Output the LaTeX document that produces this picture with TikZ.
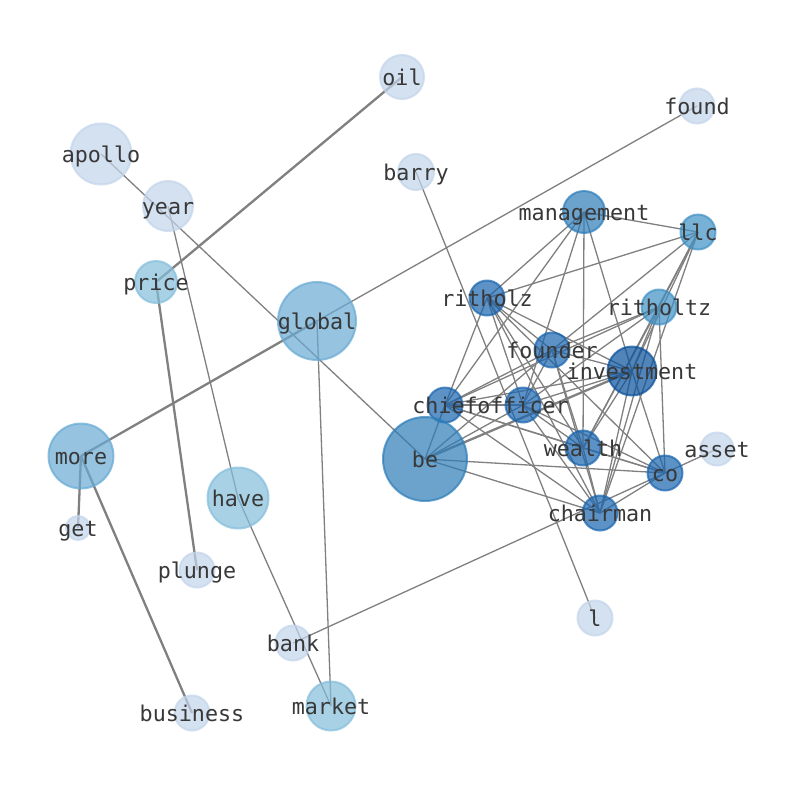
\documentclass[tikz,border=0pt]{standalone}
\usepackage{fontspec}
\newfontfamily\monofnt{DejaVu Sans Mono}
\usetikzlibrary{backgrounds}
\definecolor{cA}{RGB}{195,213,235}
\definecolor{cB}{RGB}{132,190,220}
\definecolor{cC}{RGB}{104,170,212}
\definecolor{cD}{RGB}{64,145,198}
\definecolor{cE}{RGB}{45,125,185}
\definecolor{cF}{RGB}{25,100,175}
\definecolor{cG}{RGB}{8,81,156}
\definecolor{txt}{RGB}{56,56,56}
\definecolor{edg}{RGB}{128,128,128}
\begin{document}
\begin{tikzpicture}[x=1pt,y=-1pt,
  vtx/.style={circle,inner sep=0pt,draw=#1,fill=#1,opacity=0.7,line width=2pt},
  lbl/.style={font=\monofnt\fontsize{21.7}{24}\selectfont,text=txt,inner sep=0pt,text height=16pt,text depth=0pt},
  edge/.style={draw=edg,line width=1.3pt},
  tedge/.style={draw=edg,line width=2.3pt}]
\useasboundingbox (0,0) rectangle (794,790);
% vertices
\node[vtx=cA,minimum size=44pt] (oil) at (402,77) {};
\node[vtx=cA,minimum size=35pt] (found) at (697,106) {};
\node[vtx=cA,minimum size=61pt] (apollo) at (101,154) {};
\node[vtx=cA,minimum size=36pt] (barry) at (416,172) {};
\node[vtx=cA,minimum size=50pt] (year) at (168,206) {};
\node[vtx=cE,minimum size=42pt] (management) at (584,212) {};
\node[vtx=cD,minimum size=35pt] (llc) at (698,232) {};
\node[vtx=cB,minimum size=42pt] (price) at (156,282) {};
\node[vtx=cC,minimum size=78pt] (global) at (317,321) {};
\node[vtx=cF,minimum size=35pt] (ritholz) at (487,298) {};
\node[vtx=cD,minimum size=35pt] (ritholtz) at (659,307) {};
\node[vtx=cF,minimum size=35pt] (founder) at (552,350) {};
\node[vtx=cG,minimum size=49pt] (investment) at (632,371) {};
\node[vtx=cF,minimum size=35pt] (chief) at (445,405) {};
\node[vtx=cF,minimum size=35pt] (officer) at (523,405) {};
\node[vtx=cF,minimum size=35pt] (wealth) at (583,448) {};
\node[vtx=cF,minimum size=35pt] (co) at (665,473) {};
\node[vtx=cA,minimum size=33pt] (asset) at (717,449) {};
\node[vtx=cE,minimum size=84pt] (be) at (425,459) {};
\node[vtx=cF,minimum size=35pt] (chairman) at (600,513) {};
\node[vtx=cA,minimum size=35pt] (l) at (595,618) {};
\node[vtx=cC,minimum size=65pt] (more) at (81,456) {};
\node[vtx=cA,minimum size=24pt] (get) at (78,528) {};
\node[vtx=cB,minimum size=61pt] (have) at (238,498) {};
\node[vtx=cA,minimum size=35pt] (plunge) at (197,570) {};
\node[vtx=cA,minimum size=35pt] (bank) at (293,643) {};
\node[vtx=cA,minimum size=35pt] (business) at (192,713) {};
\node[vtx=cB,minimum size=49pt] (market) at (331,706) {};
% edges
\begin{pgfonlayer}{background}
\fill[white] (0,0) rectangle (794,790);
\draw[tedge] (oil.center) -- (price.center);
\draw[tedge] (price.center) -- (plunge.center);
\draw[tedge] (more.center) -- (global.center);
\draw[tedge] (more.center) -- (get.center);
\draw[tedge] (more.center) -- (business.center);
\draw[edge] (global.center) -- (found.center);
\draw[edge] (global.center) -- (market.center);
\draw[edge] (apollo.center) -- (be.center);
\draw[edge] (year.center) -- (have.center);
\draw[edge] (have.center) -- (market.center);
\draw[edge] (barry.center) -- (l.center);
\draw[edge] (bank.center) -- (co.center);
\draw[edge] (asset.center) -- (co.center);
% cluster
\draw[edge] (management.center) -- (llc.center);
\draw[edge] (management.center) -- (ritholz.center);
\draw[edge] (management.center) -- (chief.center);
\draw[edge] (management.center) -- (officer.center);
\draw[edge] (management.center) -- (wealth.center);
\draw[edge] (management.center) -- (investment.center);
\draw[edge] (llc.center) -- (ritholz.center);
\draw[edge] (llc.center) -- (founder.center);
\draw[edge] (llc.center) -- (ritholtz.center);
\draw[edge] (llc.center) -- (investment.center);
\draw[edge] (llc.center) -- (wealth.center);
\draw[edge] (llc.center) -- (chairman.center);
\draw[edge] (ritholz.center) -- (chief.center);
\draw[edge] (ritholz.center) -- (founder.center);
\draw[edge] (ritholz.center) -- (officer.center);
\draw[edge] (ritholz.center) -- (investment.center);
\draw[edge] (ritholz.center) -- (wealth.center);
\draw[edge] (ritholz.center) -- (co.center);
\draw[edge] (ritholz.center) -- (chairman.center);
\draw[edge] (ritholtz.center) -- (founder.center);
\draw[edge] (ritholtz.center) -- (chief.center);
\draw[edge] (ritholtz.center) -- (officer.center);
\draw[edge] (ritholtz.center) -- (investment.center);
\draw[edge] (ritholtz.center) -- (wealth.center);
\draw[edge] (ritholtz.center) -- (chairman.center);
\draw[edge] (ritholtz.center) -- (co.center);
\draw[edge] (founder.center) -- (chief.center);
\draw[edge] (founder.center) -- (officer.center);
\draw[edge] (founder.center) -- (investment.center);
\draw[edge] (founder.center) -- (wealth.center);
\draw[edge] (founder.center) -- (chairman.center);
\draw[edge] (founder.center) -- (be.center);
\draw[edge] (investment.center) -- (chief.center);
\draw[edge] (investment.center) -- (officer.center);
\draw[edge] (investment.center) -- (wealth.center);
\draw[edge] (investment.center) -- (chairman.center);
\draw[edge] (investment.center) -- (co.center);
\draw[tedge] (investment.center) -- (be.center);
\draw[edge] (chief.center) -- (officer.center);
\draw[edge] (chief.center) -- (wealth.center);
\draw[edge] (chief.center) -- (co.center);
\draw[edge] (chief.center) -- (chairman.center);
\draw[edge] (chief.center) -- (be.center);
\draw[edge] (officer.center) -- (wealth.center);
\draw[edge] (officer.center) -- (co.center);
\draw[edge] (officer.center) -- (chairman.center);
\draw[edge] (officer.center) -- (be.center);
\draw[edge] (wealth.center) -- (co.center);
\draw[edge] (wealth.center) -- (chairman.center);
\draw[edge] (co.center) -- (chairman.center);
\draw[edge] (co.center) -- (be.center);
\draw[edge] (chairman.center) -- (be.center);
\end{pgfonlayer}
% labels
\foreach \w in {oil,found,apollo,barry,year,management,llc,price,global,ritholz,ritholtz,founder,investment,chief,officer,wealth,co,asset,be,chairman,l,more,get,have,plunge,bank,business,market}
  \node[lbl] (\w-t) at (\w.center) {\w};
\end{tikzpicture}
\end{document}
